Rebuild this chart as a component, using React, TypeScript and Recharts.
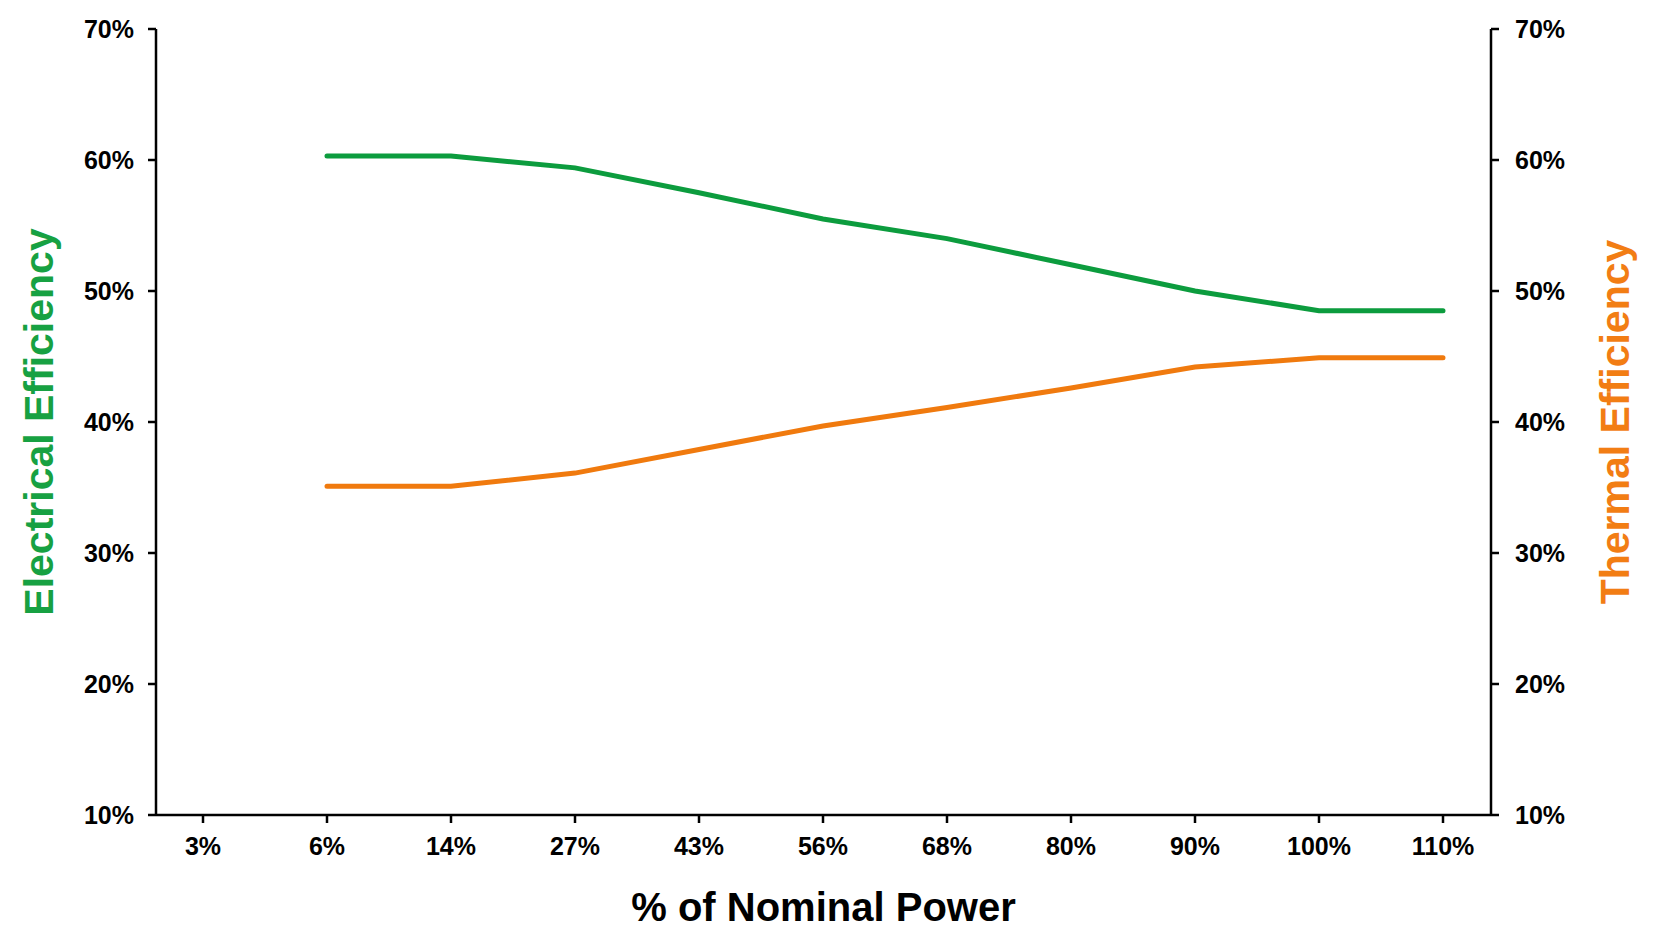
import { LineChart, Line, XAxis, YAxis, Label } from 'recharts'

const categories = ['3%', '6%', '14%', '27%', '43%', '56%', '68%', '80%', '90%', '100%', '110%']
const electrical = [null, 60.3, 60.3, 59.4, 57.5, 55.5, 54.0, 52.0, 50.0, 48.5, 48.5]
const thermal = [null, 35.1, 35.1, 36.1, 37.9, 39.7, 41.1, 42.6, 44.2, 44.9, 44.9]
const yTicks = [10, 20, 30, 40, 50, 60, 70]

const data = categories.map((name, i) => ({
  name,
  electrical: electrical[i],
  thermal: thermal[i],
}))

const FONT = '"Liberation Sans", Arial, sans-serif'
const GREEN = '#0c9c3e'
const ORANGE = '#f07a0e'
const GREEN_TEXT = '#17a142'
const ORANGE_TEXT = '#f27d14'

const tickStyle = { fill: '#000', fontSize: 25, fontWeight: 'bold', fontFamily: FONT }
const axisStroke = { stroke: '#000', strokeWidth: 2.5 }

function VerticalTitle({ viewBox, value, color, baseline }: any) {
  const { x, y, height } = viewBox
  const bx = x + baseline
  const cy = y + height / 2
  return (
    <text
      x={bx}
      y={cy}
      transform={`rotate(-90 ${bx} ${cy})`}
      textAnchor="middle"
      fill={color}
      fontSize={41}
      fontWeight="bold"
      fontFamily={FONT}
    >
      {value}
    </text>
  )
}

function BottomTitle({ viewBox, value }: any) {
  const { x, y, width } = viewBox
  return (
    <text
      x={x + width / 2}
      y={y + 106}
      textAnchor="middle"
      fill="#000"
      fontSize={40}
      fontWeight="bold"
      fontFamily={FONT}
    >
      {value}
    </text>
  )
}

export default function App() {
  return (
    <div style={{ width: 1637, height: 935 }}>
      <LineChart width={1637} height={935} data={data} margin={{ top: 21, right: 0, bottom: 0, left: 0 }}>
        <XAxis
          dataKey="name"
          height={128}
          padding={{ left: 47, right: 48 }}
          tick={tickStyle}
          tickSize={8}
          tickMargin={14}
          axisLine={axisStroke}
          tickLine={axisStroke}
          interval={0}
        >
          <Label content={(p: any) => <BottomTitle viewBox={p.viewBox} value="% of Nominal Power" />} />
        </XAxis>
        <YAxis
          yAxisId="left"
          width={148}
          domain={[10, 70]}
          ticks={yTicks}
          tickFormatter={(v) => `${v}%`}
          tick={tickStyle}
          tickSize={8}
          tickMargin={14}
          axisLine={axisStroke}
          tickLine={axisStroke}
        >
          <Label
            content={(p: any) => (
              <VerticalTitle viewBox={p.viewBox} value="Electrical Efficiency" color={GREEN_TEXT} baseline={45} />
            )}
          />
        </YAxis>
        <YAxis
          yAxisId="right"
          orientation="right"
          width={154}
          domain={[10, 70]}
          ticks={yTicks}
          tickFormatter={(v) => `${v}%`}
          tick={tickStyle}
          tickSize={8}
          tickMargin={16}
          axisLine={axisStroke}
          tickLine={axisStroke}
        >
          <Label
            content={(p: any) => (
              <VerticalTitle viewBox={p.viewBox} value="Thermal Efficiency" color={ORANGE_TEXT} baseline={138} />
            )}
          />
        </YAxis>
        <Line
          yAxisId="left"
          type="linear"
          dataKey="electrical"
          stroke={GREEN}
          strokeWidth={5}
          strokeLinecap="round"
          dot={false}
          activeDot={false}
          isAnimationActive={false}
        />
        <Line
          yAxisId="right"
          type="linear"
          dataKey="thermal"
          stroke={ORANGE}
          strokeWidth={5}
          strokeLinecap="round"
          dot={false}
          activeDot={false}
          isAnimationActive={false}
        />
      </LineChart>
    </div>
  )
}
